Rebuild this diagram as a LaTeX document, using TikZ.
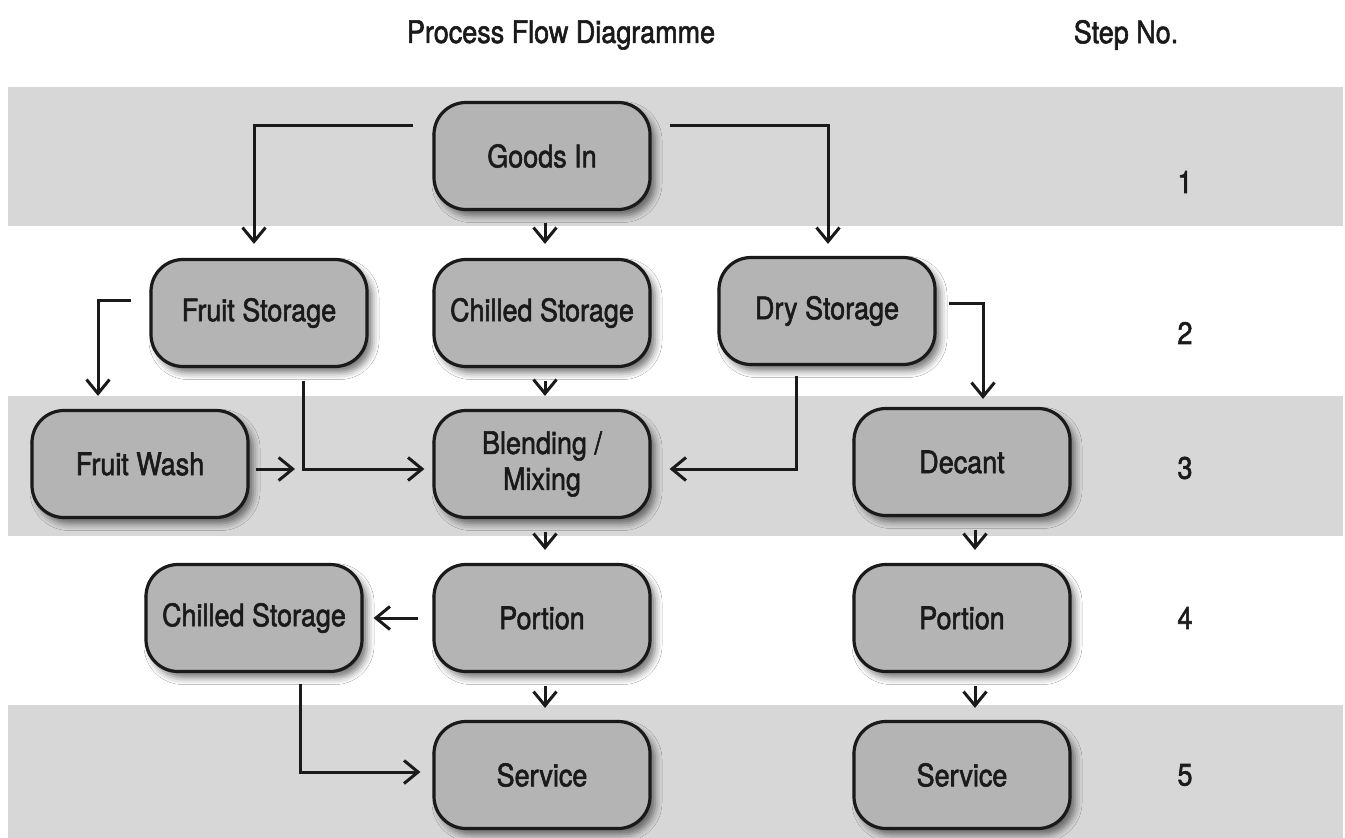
\documentclass[tikz,border=0pt]{standalone}
\usepackage{fontspec}
\setmainfont{TeX Gyre Heros}[FakeStretch=0.87,FakeBold=1.8]
\usetikzlibrary{arrows.meta,shadows.blur}
\definecolor{bandgray}{HTML}{D6D7D6}
\definecolor{boxgray}{HTML}{B3B4B3}
\definecolor{ink}{HTML}{1A1A1A}
\tikzset{
  band/.style={fill=bandgray, draw=none},
  proc/.style={draw=ink, line width=3.2pt, fill=boxgray, rounded corners=32pt,
    minimum width=216pt, minimum height=107pt, inner sep=0pt, align=center,
    font=\fontsize{31}{36}\selectfont, text=ink,
    blur shadow={shadow xshift=5pt, shadow yshift=-6pt, shadow blur radius=7pt, shadow opacity=55}},
  lbl/.style={font=\fontsize{31}{36}\selectfont, text=ink, inner sep=0pt},
  arr/.style={draw=ink, line width=3pt, -{Straight Barb[length=14pt,width=23pt]}}
}
\begin{document}
\begin{tikzpicture}[x=1pt,y=-1pt]
\useasboundingbox (0,0) rectangle (1345,838);
\fill[white] (0,0) rectangle (1345,838);
% bands
\path[band] (8,87) rectangle (1343,226);
\path[band] (8,396) rectangle (1343,536);
\path[band] (8,705) rectangle (1343,838);
% headings
\node[lbl] (title) at (561,35) {Process Flow Diagramme};
\node[lbl] (stepno) at (1126,35) {Step No.};
\node[lbl] (s1) at (1185,182) {1};
\node[lbl] (s2) at (1185,333) {2};
\node[lbl] (s3) at (1185,468) {3};
\node[lbl] (s4) at (1185,618) {4};
\node[lbl] (s5) at (1185,775) {5};
% nodes
\node[proc] (gi)  at (542,156) {Goods In};
\node[proc] (fs)  at (259,313) {Fruit Storage};
\node[proc] (cs1) at (542,313) {Chilled Storage};
\node[proc] (ds)  at (827,311) {Dry Storage};
\node[proc] (fw)  at (140,464) {Fruit Wash};
\node[proc] (bm)  at (542,464) {Blending /\\Mixing};
\node[proc] (dc)  at (962,462) {Decant};
\node[proc] (cs2) at (254,618) {Chilled Storage};
\node[proc] (po1) at (542,618) {Portion};
\node[proc] (po2) at (962,618) {Portion};
\node[proc] (sv1) at (542,775) {Service};
\node[proc] (sv2) at (962,775) {Service};
\coordinate (fwend) at (295,469);
% connectors
\draw[arr, shorten <=19pt, shorten >=14pt] ([yshift=31pt]gi.west) -| ([xshift=-5pt]fs.north);
\draw[arr, shorten <=12pt, shorten >=14pt] ([xshift=3pt]gi.south) -- ([xshift=3pt]cs1.north);
\draw[arr, shorten <=18pt, shorten >=12pt] ([yshift=31pt]gi.east) -| ([xshift=1pt]ds.north);
\draw[arr, shorten <=18pt, shorten >=13pt] ([yshift=13pt]fs.west) -| ([xshift=-42pt]fw.north);
\draw[arr, shorten <=13pt, shorten >=8pt] ([xshift=44pt]fs.south) |- ([yshift=-5pt]bm.west);
\draw[arr, shorten <=6pt] ([yshift=-5pt]fw.east) -- (fwend);
\draw[arr, shorten <=13pt, shorten >=13pt] ([xshift=3pt]cs1.south) -- ([xshift=3pt]bm.north);
\draw[arr, shorten <=10pt, shorten >=18pt] ([xshift=-31pt]ds.south) |- ([yshift=-5pt]bm.east);
\draw[arr, shorten <=12pt, shorten >=8pt] ([yshift=8pt]ds.east) -| ([xshift=21pt]dc.north);
\draw[arr, shorten <=13pt, shorten >=13pt] ([xshift=3pt]bm.south) -- ([xshift=3pt]po1.north);
\draw[arr, shorten <=13pt, shorten >=13pt] ([xshift=13pt]dc.south) -- ([xshift=13pt]po2.north);
\draw[arr, shorten <=14pt, shorten >=10pt] (po1.west) -- (cs2.east);
\draw[arr, shorten <=13pt, shorten >=12pt] ([xshift=3pt]po1.south) -- ([xshift=3pt]sv1.north);
\draw[arr, shorten <=13pt, shorten >=12pt] ([xshift=13pt]po2.south) -- ([xshift=13pt]sv2.north);
\draw[arr, shorten <=11pt, shorten >=12pt] ([xshift=46pt]cs2.south) |- ([yshift=3pt]sv1.west);
\end{tikzpicture}
\end{document}
